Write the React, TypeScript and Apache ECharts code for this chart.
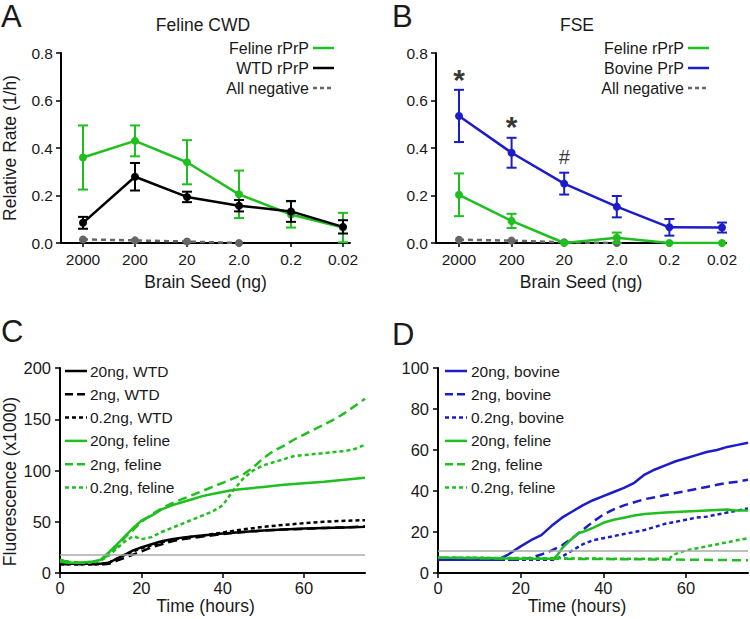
import React, { useEffect, useRef } from "react";
import * as echarts from "echarts";

// ---------- Data ----------
const seedLabels = ["2000", "200", "20", "2.0", "0.2", "0.02"];

// Panel A: Feline CWD
const cwdFelineMean = [0.36, 0.43, 0.34, 0.205, 0.12, 0.065];
const cwdFelineErr = [0.135, 0.065, 0.093, 0.1, 0.055, 0.062];
const cwdWtdMean = [0.085, 0.279, 0.194, 0.157, 0.133, 0.068];
const cwdWtdErr = [0.025, 0.058, 0.022, 0.024, 0.044, 0.028];
const cwdNegMean = [0.015, 0.011, 0.006, 0.0];

// Panel B: FSE
const fseBovineMean = [0.535, 0.38, 0.25, 0.153, 0.066, 0.065];
const fseBovineErr = [0.11, 0.063, 0.046, 0.045, 0.035, 0.021];
const fseFelineMean = [0.203, 0.093, 0.0, 0.022, 0.0, 0.0];
const fseFelineErr = [0.09, 0.03, 0, 0.022, 0, 0];
const fseNegMean = [0.014, 0.01, 0.003, 0.0];
const fseMarkText = ["*", "*", "#"];
const fseMarkValue = [0.69, 0.49, 0.363];

// Panel C: feline CWD seeded kinetics (x1000)
const cWtd20 = [[0, 9], [5, 9], [10, 9], [12, 10], [14, 14], [16, 18], [18, 22], [20, 25], [22.5, 28], [25, 31], [27.5, 33], [30, 34.5], [32.5, 35.5], [35, 36.5], [37.5, 37.5], [40, 38.5], [45, 40], [50, 41.5], [55, 42.5], [60, 43.5], [65, 44], [70, 44.5], [75, 45]];
const cWtd2 = [[0, 8.5], [5, 8.5], [11, 8.5], [12, 9], [14, 12], [16, 15], [18, 18], [20, 21], [22.5, 25], [25, 28], [27.5, 31], [30, 33], [35, 35.5], [40, 38], [45, 40], [50, 41.5], [55, 42.5], [60, 43], [65, 44], [70, 44.5], [75, 45.5]];
const cWtd02 = [[0, 8.5], [5, 8.5], [10, 8.5], [12, 10], [14, 14], [16, 18], [18, 21], [20, 24], [22.5, 27], [25, 30], [27.5, 32], [30, 34], [35, 36.5], [40, 39.5], [45, 42.5], [50, 45], [55, 47], [60, 48.5], [65, 50], [70, 51], [75, 51.5]];
const cFel20 = [[0, 11], [2, 10], [5, 10], [8, 11], [10, 13], [12, 20], [14, 28], [16, 36], [18, 44], [20, 51], [22.5, 56], [25, 62], [27.5, 66], [30, 69], [32.5, 72], [35, 75], [37.5, 77], [40, 79], [42.5, 81], [45, 82], [50, 84], [55, 86], [60, 87.5], [65, 89], [70, 91], [75, 93]];
const cFel2 = [[0, 12], [5, 10], [8, 11], [10, 12], [12, 18], [14, 26], [16, 35], [18, 42], [20, 50], [22.5, 57], [25, 63], [27.5, 68], [30, 72], [32.5, 76], [35, 80], [37.5, 84], [40, 88], [42.5, 92], [45, 96], [47.5, 103], [50, 112], [52.5, 119], [55, 124], [57.5, 130], [60, 135], [62.5, 140], [65, 145], [67.5, 150], [70, 156], [72.5, 163], [75, 170]];
const cFel02 = [[0, 13], [2, 11], [5, 10], [8, 10], [10, 12], [12, 17], [14, 24], [16, 31], [18, 36], [20, 33], [22.5, 35], [25, 40], [27.5, 44], [30, 48], [32.5, 52], [35, 56], [37.5, 60], [40, 66], [42.5, 80], [45, 92], [47.5, 100], [50, 105], [52.5, 108], [55, 111], [57.5, 114], [60, 115], [62.5, 116], [65, 117], [67.5, 118], [70, 119], [72.5, 121], [75, 125]];
const cThreshold = 17.5;

// Panel D: FSE seeded kinetics (x1000)
const dBov20 = [[0, 6.5], [7, 6.5], [14, 6.5], [15, 7], [17, 9], [20, 13], [22.5, 16], [25, 18.5], [27.5, 23], [30, 27], [32.5, 30], [35, 33], [37.5, 35.5], [40, 37.5], [42.5, 39.5], [45, 41.5], [47.5, 44], [50, 48], [52.5, 50.5], [55, 52.5], [57.5, 54.5], [60, 56], [62.5, 57.5], [65, 59], [67.5, 60], [70, 61.5], [72.5, 62.5], [75, 63.5]];
const dBov2 = [[0, 6.5], [10, 6.5], [20, 6.5], [22.5, 7.5], [25, 9], [27.5, 11], [30, 13.5], [32.5, 17], [35, 21], [37.5, 25], [40, 28.5], [42.5, 31], [45, 33], [47.5, 34.5], [50, 36], [52.5, 37], [55, 38], [57.5, 39], [60, 40], [62.5, 41], [65, 42], [67.5, 43], [70, 44], [72.5, 44.5], [75, 45.5]];
const dBov02 = [[0, 6.5], [14, 6.5], [28, 6.5], [30, 8], [32.5, 11], [35, 14], [37.5, 16], [40, 17], [42.5, 18], [45, 19], [47.5, 20], [50, 21], [52.5, 22.5], [55, 24], [57.5, 25], [60, 26], [62.5, 27], [65, 27.5], [67.5, 28.5], [70, 29.5], [72.5, 30.5], [75, 31.5]];
const dFel20 = [[0, 7.5], [10, 7.3], [20, 7], [28, 7], [29, 9], [30, 12], [32, 16], [34, 19.5], [35, 20], [37.5, 22], [40, 24.5], [42.5, 26], [45, 27], [47.5, 28], [50, 28.8], [55, 29.5], [60, 30], [65, 30.5], [70, 31], [72, 30.5], [75, 30.5]];
const dFel2 = [[0, 7.5], [20, 7], [40, 6.8], [60, 6.5], [75, 6.2]];
const dFel02 = [[0, 7.5], [20, 7.3], [40, 7], [56, 7], [57, 9], [60, 11], [65, 13], [70, 15], [75, 17]];
const dThreshold = 11;

// ---------- Styles ----------
const FONT = "'Liberation Sans', Arial, Helvetica, sans-serif";
const GREEN = "#1fbf1f";
const BLUE = "#1c1cc8";
const BLACK = "#000000";
const GRAY = "#666666";
const TXT = "#1a1a1a";
const DASH = [9, 5];
const DOT = [4, 3];

const idx = (arr: number[]) => arr.map((v, i) => [i, v]);
const withErr = (m: number[], e: number[]) => m.map((v, i) => [i, v, e[i]]);

function errorSeries(data: number[][], color: string, xi: number, z: number) {
  return {
    type: "custom",
    xAxisIndex: xi,
    yAxisIndex: xi,
    z,
    silent: true,
    data,
    encode: { x: 0, y: 1 },
    renderItem: (params: any, api: any) => {
      const x = api.value(0);
      const y = api.value(1);
      const e = api.value(2);
      if (!e) return { type: "group", children: [] };
      const t = api.coord([x, y + e]);
      const b = api.coord([x, Math.max(0, y - e)]);
      const h = 5;
      const st = { stroke: color, lineWidth: 2 };
      return {
        type: "group",
        children: [
          { type: "line", shape: { x1: t[0], y1: t[1], x2: b[0], y2: b[1] }, style: st },
          { type: "line", shape: { x1: t[0] - h, y1: t[1], x2: t[0] + h, y2: t[1] }, style: st },
          { type: "line", shape: { x1: b[0] - h, y1: b[1], x2: b[0] + h, y2: b[1] }, style: st },
        ],
      };
    },
  };
}

function meanSeries(name: string, data: number[][], color: string, xi: number, z: number, dashed = false) {
  return {
    type: "line",
    name,
    xAxisIndex: xi,
    yAxisIndex: xi,
    z,
    data,
    symbol: "circle",
    symbolSize: 8,
    itemStyle: { color },
    lineStyle: { color, width: 2.5, type: dashed ? [5, 4] : "solid" },
  };
}

function curve(name: string, data: number[][], color: string, xi: number, type: any) {
  return {
    type: "line",
    name,
    xAxisIndex: xi,
    yAxisIndex: xi,
    data,
    symbol: "none",
    lineStyle: { color, width: 2.5, type },
  };
}

const axisLine = { show: true, onZero: false, lineStyle: { color: BLACK, width: 2 } };

function seedXAxis(gi: number, min: number, max: number) {
  return {
    type: "value",
    gridIndex: gi,
    min,
    max,
    axisLine,
    splitLine: { show: false },
    axisTick: { show: true, length: 4, customValues: [0, 1, 2, 3, 4, 5], lineStyle: { color: BLACK, width: 1.5 } },
    axisLabel: {
      customValues: [0, 1, 2, 3, 4, 5],
      formatter: (v: number) => seedLabels[Math.round(v)],
      fontSize: 15.5,
      color: TXT,
      margin: 8,
      fontFamily: FONT,
    },
    name: "Brain Seed (ng)",
    nameLocation: "middle",
    nameGap: 30,
    nameTextStyle: { fontSize: 17.5, color: TXT, fontFamily: FONT },
  };
}

function rateYAxis(gi: number, withName: boolean) {
  return {
    type: "value",
    gridIndex: gi,
    min: 0,
    max: 0.8,
    interval: 0.2,
    axisLine,
    splitLine: { show: false },
    axisTick: { show: true, length: 5, lineStyle: { color: BLACK, width: 1.5 } },
    axisLabel: { formatter: (v: number) => v.toFixed(1), fontSize: 15.5, color: TXT, margin: 8, fontFamily: FONT },
    name: withName ? "Relative Rate (1/h)" : "",
    nameLocation: "middle",
    nameGap: 42,
    nameTextStyle: { fontSize: 17.5, color: TXT, fontFamily: FONT },
  };
}

function timeXAxis(gi: number, shift: number) {
  return {
    type: "value",
    gridIndex: gi,
    min: 0,
    max: 75,
    interval: 20,
    axisLine,
    splitLine: { show: false },
    axisTick: { show: true, length: 5, customValues: [0, 20, 40, 60], lineStyle: { color: BLACK, width: 1.5 } },
    axisLabel: { customValues: [0, 20, 40, 60], fontSize: 16.5, color: TXT, margin: 6, fontFamily: FONT },
    name: "Time (hours)",
    nameLocation: "middle",
    nameGap: 24,
    nameTextStyle: { fontSize: 17.5, color: TXT, fontFamily: FONT, padding: [0, shift, 0, 0] },
  };
}

function fluoYAxis(gi: number, max: number, interval: number, withName: boolean) {
  return {
    type: "value",
    gridIndex: gi,
    min: 0,
    max,
    interval,
    axisLine,
    splitLine: { show: false },
    axisTick: { show: true, length: 5, lineStyle: { color: BLACK, width: 1.5 } },
    axisLabel: { fontSize: 16.5, color: TXT, margin: 9, fontFamily: FONT },
    name: withName ? "Fluorescence (x1000)" : "",
    nameLocation: "middle",
    nameGap: 41,
    nameTextStyle: { fontSize: 17.5, color: TXT, fontFamily: FONT, padding: [0, 22, 0, 0] },
  };
}

function txt(text: string, x: number, y: number, size: number, align = "left", extra: any = {}) {
  return {
    type: "text",
    x,
    y,
    silent: true,
    style: { text, fontSize: size, fontFamily: FONT, fill: TXT, align, verticalAlign: "middle", ...extra },
  };
}

function sample(x1: number, x2: number, y: number, color: string, dash: any) {
  return {
    type: "line",
    silent: true,
    shape: { x1, y1: y, x2, y2: y },
    style: { stroke: color, lineWidth: 2.5, lineDash: dash },
  };
}

// legends (right-aligned text, sample on the right) for A, B
const legendA = [
  { name: "Feline rPrP", color: GREEN, dash: null },
  { name: "WTD rPrP", color: BLACK, dash: null },
  { name: "All negative", color: GRAY, dash: [4, 3] },
];
const legendB = [
  { name: "Feline rPrP", color: GREEN, dash: null },
  { name: "Bovine PrP", color: BLUE, dash: null },
  { name: "All negative", color: GRAY, dash: [4, 3] },
];
const legendC = [
  { name: "20ng, WTD", color: BLACK, dash: null },
  { name: "2ng, WTD", color: BLACK, dash: [8, 4] },
  { name: "0.2ng, WTD", color: BLACK, dash: [4, 3] },
  { name: "20ng, feline", color: GREEN, dash: null },
  { name: "2ng, feline", color: GREEN, dash: [8, 4] },
  { name: "0.2ng, feline", color: GREEN, dash: [4, 3] },
];
const legendD = [
  { name: "20ng, bovine", color: BLUE, dash: null },
  { name: "2ng, bovine", color: BLUE, dash: [8, 4] },
  { name: "0.2ng, bovine", color: BLUE, dash: [4, 3] },
  { name: "20ng, feline", color: GREEN, dash: null },
  { name: "2ng, feline", color: GREEN, dash: [8, 4] },
  { name: "0.2ng, feline", color: GREEN, dash: [4, 3] },
];

function buildGraphics() {
  const g: any[] = [];
  g.push(txt("A", 1, 16, 31));
  g.push(txt("B", 392, 16, 31));
  g.push(txt("C", 1, 331, 31));
  g.push(txt("D", 392, 334, 31));
  g.push(txt("Feline CWD", 203, 25, 17.5, "center"));
  g.push(txt("FSE", 577, 25, 17.5, "center"));
  legendA.forEach((l, i) => {
    const y = 48 + i * 20;
    g.push(txt(l.name, 309, y, 16, "right"));
    g.push(sample(313, 334, y, l.color, l.dash));
  });
  legendB.forEach((l, i) => {
    const y = 48 + i * 20;
    g.push(txt(l.name, 684, y, 16, "right"));
    g.push(sample(688, 709, y, l.color, l.dash));
  });
  legendC.forEach((l, i) => {
    const y = 371 + i * 23.3;
    g.push(sample(65, 87, y, l.color, l.dash));
    g.push(txt(l.name, 90, y, 15.5, "left"));
  });
  legendD.forEach((l, i) => {
    const y = 371 + i * 23.3;
    g.push(sample(445, 467, y, l.color, l.dash));
    g.push(txt(l.name, 471, y, 15.5, "left"));
  });
  return g;
}

const thresholdLine = (v: number) => ({
  silent: true,
  symbol: "none",
  label: { show: false },
  lineStyle: { color: "#aaaaaa", width: 1.5, type: "solid" },
  data: [{ yAxis: v }],
});

const option: any = {
  animation: false,
  backgroundColor: "#ffffff",
  textStyle: { fontFamily: FONT },
  grid: [
    { left: 61, top: 53, width: 289, height: 190 },
    { left: 436, top: 53, width: 290, height: 190 },
    { left: 59, top: 368, width: 306, height: 205 },
    { left: 438, top: 368, width: 310, height: 205 },
  ],
  xAxis: [seedXAxis(0, -0.423, 5.135), seedXAxis(1, -0.437, 5.076), timeXAxis(2, 14), timeXAxis(3, 32)],
  yAxis: [rateYAxis(0, true), rateYAxis(1, false), fluoYAxis(2, 200, 50, true), fluoYAxis(3, 100, 20, false)],
  graphic: buildGraphics(),
  series: [
    // Panel A
    meanSeries("All negative", idx(cwdNegMean), GRAY, 0, 2, true),
    errorSeries(withErr(cwdFelineMean, cwdFelineErr), GREEN, 0, 3),
    meanSeries("Feline rPrP", idx(cwdFelineMean), GREEN, 0, 3),
    errorSeries(withErr(cwdWtdMean, cwdWtdErr), BLACK, 0, 4),
    meanSeries("WTD rPrP", idx(cwdWtdMean), BLACK, 0, 4),
    // Panel B
    meanSeries("All negative", idx(fseNegMean), GRAY, 1, 2, true),
    errorSeries(withErr(fseFelineMean, fseFelineErr), GREEN, 1, 3),
    meanSeries("Feline rPrP", idx(fseFelineMean), GREEN, 1, 3),
    errorSeries(withErr(fseBovineMean, fseBovineErr), BLUE, 1, 4),
    meanSeries("Bovine PrP", idx(fseBovineMean), BLUE, 1, 4),
    {
      type: "scatter",
      xAxisIndex: 1,
      yAxisIndex: 1,
      symbolSize: 0,
      silent: true,
      data: fseMarkValue.map((v, i) => ({
        value: [i, v],
        name: fseMarkText[i],
        label: fseMarkText[i] === "*" ? { fontSize: 30, fontWeight: "bold" } : { fontSize: 20 },
      })),
      label: {
        show: true,
        position: "inside",
        formatter: (p: any) => p.name,
        color: "#000",
        fontFamily: FONT,
      },
      itemStyle: { color: "transparent" },
    },
    // Panel C
    { ...curve("20ng, WTD", cWtd20, BLACK, 2, "solid"), markLine: thresholdLine(cThreshold) },
    curve("2ng, WTD", cWtd2, BLACK, 2, DASH),
    curve("0.2ng, WTD", cWtd02, BLACK, 2, DOT),
    curve("20ng, feline", cFel20, GREEN, 2, "solid"),
    curve("2ng, feline", cFel2, GREEN, 2, DASH),
    curve("0.2ng, feline", cFel02, GREEN, 2, DOT),
    // Panel D
    { ...curve("20ng, bovine", dBov20, BLUE, 3, "solid"), markLine: thresholdLine(dThreshold) },
    curve("2ng, bovine", dBov2, BLUE, 3, DASH),
    curve("0.2ng, bovine", dBov02, BLUE, 3, DOT),
    curve("20ng, feline", dFel20, GREEN, 3, "solid"),
    curve("2ng, feline", dFel2, GREEN, 3, DASH),
    curve("0.2ng, feline", dFel02, GREEN, 3, DOT),
  ],
};

export default function App() {
  const ref = useRef<HTMLDivElement>(null);
  useEffect(() => {
    const chart = echarts.init(ref.current!, null, { renderer: "svg" });
    chart.setOption(option);
    return () => chart.dispose();
  }, []);
  return (
    <div
      ref={ref}
      style={{ position: "absolute", left: 0, top: 0, width: 750, height: 619, background: "#fff" }}
    />
  );
}
